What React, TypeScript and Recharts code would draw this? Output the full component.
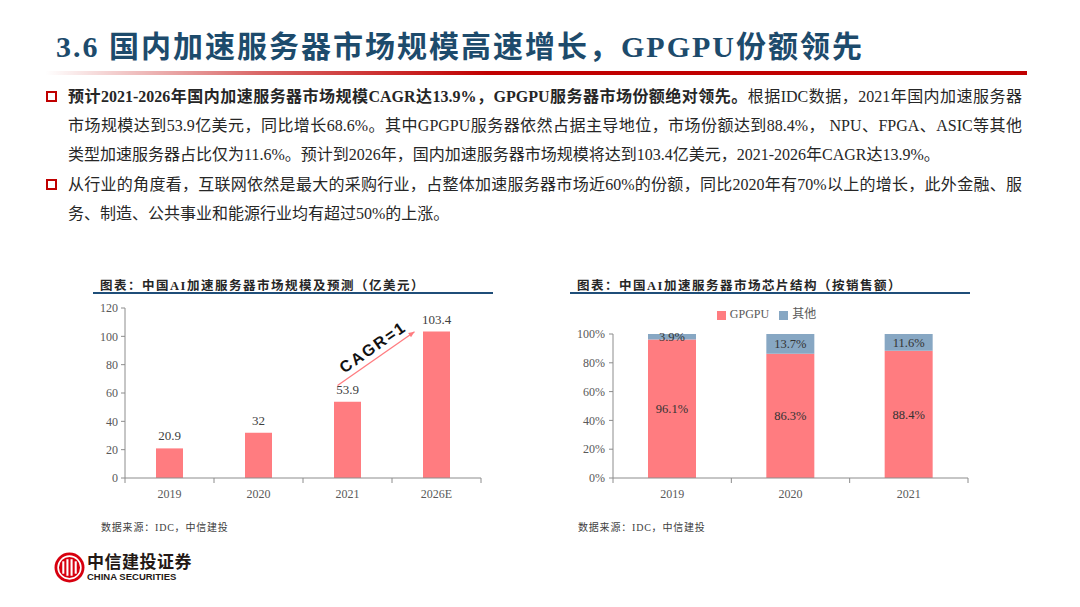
import React from "react";
import { BarChart, Bar, XAxis, YAxis, LabelList, ReferenceLine, Legend } from "recharts";

// left chart: market size (亿美元)
const sizeYears = ["2019", "2020", "2021", "2026E"];
const sizeValues = [20.9, 32, 53.9, 103.4];
const sizeTicks = [0, 20, 40, 60, 80, 100, 120];

// right chart: chip share
const shareYears = ["2019", "2020", "2021"];
const gpgpuShare = [96.1, 86.3, 88.4];
const otherShare = [3.9, 13.7, 11.6];
const shareTicks = [0, 20, 40, 60, 80, 100];

// CAGR arrow anchors (category, value)
const cagrStart = { x: "2021", y: 66 };
const cagrEnd = { x: "2026E", y: 104 };

const PINK = "#FF7C80";
const STEEL = "#87A7C3";
const AXIS = "#8C8C8C";
const TICK_TEXT = "#595959";
const SERIF = '"Liberation Serif", "Noto Sans CJK SC", serif';

const sizeData = sizeYears.map((year, i) => ({ year, value: sizeValues[i] }));
const shareData = shareYears.map((year, i) => ({
  year,
  gpgpu: gpgpuShare[i],
  other: otherShare[i],
}));

// category tick with the tick marks on the band edges (like Excel)
function makeCatTick(band: number, count: number) {
  return (props: any) => {
    const { x, y, payload, index } = props;
    const axisY = y - 11;
    return (
      <g>
        <line x1={x - band / 2} x2={x - band / 2} y1={axisY} y2={axisY + 5} stroke={AXIS} />
        {index === count - 1 && (
          <line x1={x + band / 2} x2={x + band / 2} y1={axisY} y2={axisY + 5} stroke={AXIS} />
        )}
        <text
          x={x}
          y={y}
          dy="0.71em"
          textAnchor="middle"
          fill={TICK_TEXT}
          fontSize={12}
          fontFamily={SERIF}
        >
          {payload.value}
        </text>
      </g>
    );
  };
}

const CagrArrow = (props: any) => {
  const { x1, y1, x2, y2 } = props;
  const sx = x1 - 10;
  const sy = y1 + 1;
  const ex = x2 - 22;
  const ey = y2 + 1;
  const ang = (Math.atan2(ey - sy, ex - sx) * 180) / Math.PI;
  const mx = (sx + ex) / 2;
  const my = (sy + ey) / 2;
  return (
    <g>
      <line x1={sx} y1={sy} x2={ex} y2={ey} stroke={PINK} strokeWidth={1.3} />
      <polygon
        points={`${ex},${ey} ${ex - 6},${ey - 2.5} ${ex - 6},${ey + 2.5}`}
        fill={PINK}
        transform={`rotate(${ang} ${ex} ${ey})`}
      />
      <text
        x={mx}
        y={my - 7}
        textAnchor="middle"
        fontSize={16}
        fontWeight="bold"
        letterSpacing={2}
        fontFamily='"Liberation Sans", sans-serif'
        fill="#111"
        transform={`rotate(${ang} ${mx} ${my - 7})`}
      >
        CAGR=1
      </text>
    </g>
  );
};

const bodyText: React.CSSProperties = {
  position: "absolute",
  left: 68,
  width: 954,
  fontSize: 16,
  fontFamily: SERIF,
  color: "#262626",
  whiteSpace: "nowrap",
  lineHeight: "20px",
};

const Square = ({ top }: { top: number }) => (
  <div
    style={{
      position: "absolute",
      left: 46,
      top,
      width: 7,
      height: 7,
      border: "2px solid #C00000",
    }}
  />
);

const chartTitle: React.CSSProperties = {
  position: "absolute",
  top: 275,
  fontSize: 12.5,
  fontWeight: "bold",
  letterSpacing: 1.5,
  fontFamily: SERIF,
  color: "#262626",
  whiteSpace: "nowrap",
};

const sourceText: React.CSSProperties = {
  position: "absolute",
  top: 519,
  fontSize: 10,
  letterSpacing: 0.8,
  fontFamily: SERIF,
  color: "#404040",
  whiteSpace: "nowrap",
};

export default function App() {
  return (
    <div
      style={{
        position: "absolute",
        left: 0,
        top: 0,
        width: 1080,
        height: 607,
        background: "#fff",
        overflow: "hidden",
      }}
    >
      {/* slide title */}
      <div
        style={{
          position: "absolute",
          left: 56,
          top: 27,
          fontSize: 30,
          fontWeight: "bold",
          letterSpacing: 2,
          fontFamily: SERIF,
          color: "#1D4B6C",
          whiteSpace: "nowrap",
          lineHeight: "40px",
        }}
      >
        3.6 国内加速服务器市场规模高速增长，GPGPU份额领先
      </div>
      <div
        style={{
          position: "absolute",
          left: 45,
          top: 71,
          width: 982,
          height: 4,
          background: "linear-gradient(to right, rgba(192,0,0,0) 0%, rgba(192,0,0,0.6) 22%, #C00000 45%, #C00000 100%)",
        }}
      />

      {/* bullets */}
      <Square top={91} />
      <div style={{ ...bodyText, top: 87, textAlignLast: "justify" }}>
        <b>预计2021-2026年国内加速服务器市场规模CAGR达13.9%，GPGPU服务器市场份额绝对领先。</b>
        根据IDC数据，2021年国内加速服务器
      </div>
      <div style={{ ...bodyText, top: 116, textAlignLast: "justify" }}>
        市场规模达到53.9亿美元，同比增长68.6%。其中GPGPU服务器依然占据主导地位，市场份额达到88.4%， NPU、FPGA、ASIC等其他
      </div>
      <div style={{ ...bodyText, top: 145 }}>
        类型加速服务器占比仅为11.6%。预计到2026年，国内加速服务器市场规模将达到103.4亿美元，2021-2026年CAGR达13.9%。
      </div>
      <Square top={179} />
      <div style={{ ...bodyText, top: 175, textAlignLast: "justify" }}>
        从行业的角度看，互联网依然是最大的采购行业，占整体加速服务器市场近60%的份额，同比2020年有70%以上的增长，此外金融、服
      </div>
      <div style={{ ...bodyText, top: 204 }}>务、制造、公共事业和能源行业均有超过50%的上涨。</div>

      {/* left chart */}
      <div style={{ ...chartTitle, left: 100 }}>图表：中国AI加速服务器市场规模及预测（亿美元）</div>
      <div style={{ position: "absolute", left: 93, top: 292, width: 400, height: 2, background: "#1F4E79" }} />
      <div style={{ position: "absolute", left: 90, top: 296 }}>
        <BarChart
          width={401}
          height={212}
          data={sizeData}
          margin={{ top: 12, right: 10, bottom: 0, left: 5 }}
        >
          <XAxis
            dataKey="year"
            height={30}
            stroke={AXIS}
            tickLine={false}
            tickSize={5}
            tickMargin={6}
            tick={makeCatTick(356 / sizeYears.length, sizeYears.length)}
          />
          <YAxis
            width={30}
            domain={[0, 120]}
            ticks={sizeTicks}
            stroke={AXIS}
            tickSize={4}
            tickMargin={3}
            tick={{ fill: TICK_TEXT, fontSize: 12, fontFamily: SERIF }}
          />
          <Bar dataKey="value" fill={PINK} barSize={27} isAnimationActive={false}>
            <LabelList
              dataKey="value"
              position="top"
              offset={8}
              fill="#404040"
              fontSize={13}
              fontFamily={SERIF}
            />
          </Bar>
          <ReferenceLine
            segment={[cagrStart, cagrEnd]}
            ifOverflow="visible"
            shape={CagrArrow}
          />
        </BarChart>
      </div>
      <div style={{ ...sourceText, left: 101 }}>数据来源：IDC，中信建投</div>

      {/* right chart */}
      <div style={{ ...chartTitle, left: 577 }}>图表：中国AI加速服务器市场芯片结构（按销售额）</div>
      <div style={{ position: "absolute", left: 570, top: 292, width: 400, height: 2, background: "#1F4E79" }} />
      <div style={{ position: "absolute", left: 570, top: 300 }}>
        <BarChart
          width={403}
          height={208}
          data={shareData}
          margin={{ top: 4, right: 5, bottom: 0, left: 5 }}
        >
          <Legend
            verticalAlign="top"
            align="center"
            iconType="square"
            iconSize={9}
            wrapperStyle={{ paddingBottom: 12, fontFamily: SERIF, fontSize: 12 }}
            formatter={(v: string) => <span style={{ color: TICK_TEXT }}>{v}</span>}
          />
          <XAxis
            dataKey="year"
            height={30}
            stroke={AXIS}
            tickLine={false}
            tickSize={5}
            tickMargin={6}
            tick={makeCatTick(355 / shareYears.length, shareYears.length)}
          />
          <YAxis
            width={38}
            domain={[0, 100]}
            ticks={shareTicks}
            stroke={AXIS}
            tickSize={4}
            tickMargin={4}
            tickFormatter={(v: number) => `${v}%`}
            tick={{ fill: TICK_TEXT, fontSize: 12, fontFamily: SERIF }}
          />
          <Bar dataKey="gpgpu" name="GPGPU" stackId="s" fill={PINK} barSize={48} isAnimationActive={false}>
            <LabelList
              dataKey="gpgpu"
              position="center"
              formatter={(v: any) => `${v}%`}
              fill="#333"
              fontSize={12.5}
              fontFamily={SERIF}
            />
          </Bar>
          <Bar dataKey="other" name="其他" stackId="s" fill={STEEL} barSize={48} isAnimationActive={false}>
            <LabelList
              dataKey="other"
              position="center"
              formatter={(v: any) => `${v}%`}
              fill="#333"
              fontSize={12.5}
              fontFamily={SERIF}
            />
          </Bar>
        </BarChart>
      </div>
      <div style={{ ...sourceText, left: 578 }}>数据来源：IDC，中信建投</div>

      {/* logo */}
      <div style={{ position: "absolute", left: 54, top: 552 }}>
        <svg width="31" height="31" viewBox="0 0 30 30">
          <circle cx="15" cy="15" r="14.5" fill="#D7000F" />
          <circle cx="15" cy="15" r="11" fill="none" stroke="#fff" strokeWidth="1.6" />
          <rect x="8" y="9" width="2" height="12" fill="#fff" />
          <rect x="12" y="7" width="2" height="16" fill="#fff" />
          <rect x="16" y="7" width="2" height="16" fill="#fff" />
          <rect x="20" y="9" width="2" height="12" fill="#fff" />
        </svg>
      </div>
      <div
        style={{
          position: "absolute",
          left: 87,
          top: 551,
          fontSize: 17,
          fontWeight: "bold",
          letterSpacing: 0.5,
          fontFamily: '"Noto Sans CJK SC", sans-serif',
          color: "#231815",
          lineHeight: "20px",
          whiteSpace: "nowrap",
        }}
      >
        中信建投证券
      </div>
      <div
        style={{
          position: "absolute",
          left: 87,
          top: 571,
          fontSize: 9.5,
          fontWeight: "bold",
          fontFamily: '"Liberation Sans", sans-serif',
          color: "#231815",
          lineHeight: "11px",
          whiteSpace: "nowrap",
        }}
      >
        CHINA SECURITIES
      </div>
    </div>
  );
}
